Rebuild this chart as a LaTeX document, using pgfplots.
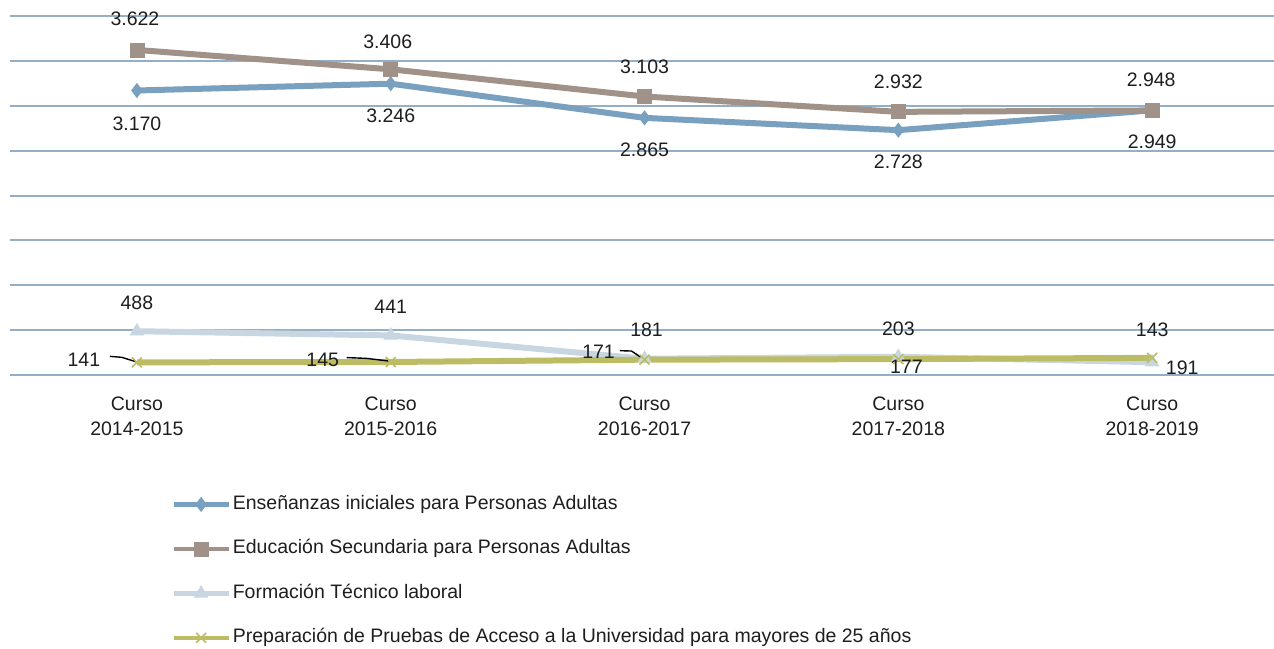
\documentclass[border=0pt]{standalone}
\usepackage{fontspec}
\setmainfont{Liberation Sans}
\usepackage{pgfplots}
\usepackage{pgfplotstable}
\pgfplotsset{compat=1.18}
\definecolor{cA}{RGB}{122,160,192}
\definecolor{cB}{RGB}{160,146,136}
\definecolor{cC}{RGB}{200,214,226}
\definecolor{cD}{RGB}{188,188,100}
\definecolor{gridc}{RGB}{148,174,200}
\definecolor{txtc}{RGB}{30,30,30}

\pgfplotstableread{
x y lab dx dy
0 3170 3.170 0 -16.5
1 3246 3.246 0 -16
2 2865 2.865 0 -16
3 2728 2.728 0 -16
4 2949 2.949 0 -15.5
}\tA
\pgfplotstableread{
x y lab dx dy
0 3622 3.622 -1 15.5
1 3406 3.406 -1.5 14
2 3103 3.103 0 15
3 2932 2.932 0 15
4 2948 2.948 -0.5 15.5
}\tB
\pgfplotstableread{
x y lab dx dy
0 488 488 0 14
1 441 441 0 14.5
2 181 181 1 14.5
3 203 203 0 14
4 143 143 0 16
}\tC
\pgfplotstableread{
x y lab dx dy
0 141 141 -26.5 1.5
1 145 145 -34 1
2 171 171 -23 4
3 177 177 4 -3.85
4 191 191 15 -5
}\tD

\begin{document}
\begin{tikzpicture}
\useasboundingbox (0,0) rectangle (637pt,-324pt);
\begin{axis}[
  at={(5pt,-187.5pt)}, anchor=south west,
  scale only axis, width=632pt, height=179.5pt,
  xmin=-0.5, xmax=4.48, ymin=0, ymax=4000,
  clip=false,
  axis line style={draw=none},
  major tick length=0pt,
  ytick={0,500,...,4000}, yticklabels={},
  ymajorgrids, grid style={gridc, line width=1pt},
  xtick={0,1,2,3,4},
  xticklabels={{Curso\\2014-2015},{Curso\\2015-2016},{Curso\\2016-2017},{Curso\\2017-2018},{Curso\\2018-2019}},
  xticklabel style={align=center, text=txtc, font=\fontsize{9.75pt}{12.5pt}\selectfont, inner sep=0pt, yshift=-10.5pt},
  point meta=explicit symbolic,
  nodes near coords,
  visualization depends on={\thisrow{dx}\as\dx},
  visualization depends on={\thisrow{dy}\as\dy},
  every node near coord/.append style={anchor=center, xshift=\dx pt, yshift=\dy pt, text=txtc, font=\fontsize{9.75pt}{11.5pt}\selectfont, inner sep=0pt},
  legend cell align=left,
  legend style={at={(axis description cs:0.1274,-0.326)}, anchor=north west, draw=none, fill=none, inner sep=0pt, row sep=10.25pt,
    font=\fontsize{9.75pt}{11.5pt}\selectfont, text=txtc,
    nodes={inner sep=1pt, text height=7.5pt, text depth=2.5pt}},
  legend image code/.code={\draw[mark repeat=2, mark phase=2, #1, line width=2.2pt] plot coordinates {(0pt,0pt) (13.75pt,0pt) (27.5pt,0pt)};},
]
\addplot[cA, line width=3pt, mark=diamond*, mark size=3.5pt, mark options={solid, line width=0.4pt, fill=cA}] table[x=x, y=y, meta=lab] {\tA};
\addlegendentry{Enseñanzas iniciales para Personas Adultas}
\addplot[cB, line width=3pt, mark=square*, mark size=3.5pt, mark options={solid, line width=0.4pt, fill=cB}] table[x=x, y=y, meta=lab] {\tB};
\addlegendentry{Educación Secundaria para Personas Adultas}
\addplot[cC, line width=3pt, mark=triangle*, mark size=3.8pt, mark options={solid, line width=0.4pt, fill=cC}] table[x=x, y=y, meta=lab] {\tC};
\addlegendentry{Formación Técnico laboral}
\addplot[cD, line width=3pt, mark=x, mark size=3.5pt, mark options={solid, line width=0.8pt}] table[x=x, y=y, meta=lab] {\tD};
\addlegendentry{Preparación de Pruebas de Acceso a la Universidad para mayores de 25 años}
\draw[black, line width=0.7pt] ([shift={(-13.5pt,3pt)}]axis cs:0,141) -- ([shift={(-7.5pt,2.5pt)}]axis cs:0,141) -- ([shift={(0.5pt,0pt)}]axis cs:0,141);
\draw[black, line width=0.7pt] ([shift={(-22pt,2.2pt)}]axis cs:1,145) -- ([shift={(-12pt,1.8pt)}]axis cs:1,145) -- ([shift={(-1.2pt,0.5pt)}]axis cs:1,145);
\draw[black, line width=0.7pt] ([shift={(-12.3pt,4.5pt)}]axis cs:2,171) -- ([shift={(-6.5pt,4.3pt)}]axis cs:2,171) -- ([shift={(0pt,0pt)}]axis cs:2,171);
\end{axis}
\end{tikzpicture}
\end{document}
